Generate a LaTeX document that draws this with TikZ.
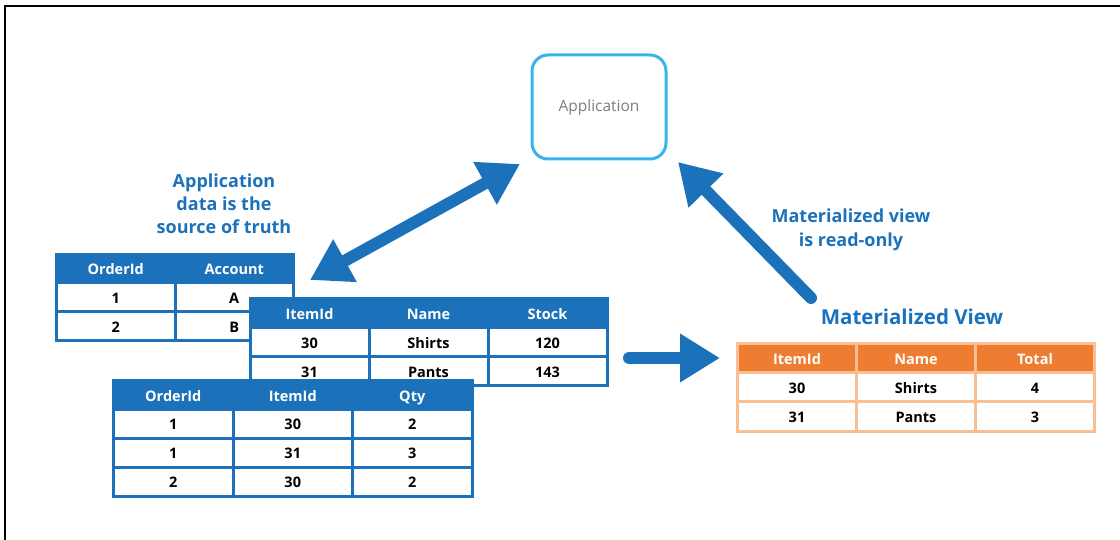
\documentclass[tikz,border=0pt]{standalone}
\usepackage{fontspec}
\setmainfont{Open Sans}
\usetikzlibrary{arrows.meta}
\definecolor{tblue}{RGB}{27,114,187}
\definecolor{appcyan}{RGB}{55,180,234}
\definecolor{apptext}{RGB}{125,125,125}
\definecolor{mvorange}{RGB}{238,125,49}
\definecolor{mvlight}{RGB}{249,190,148}
\tikzset{
  cell/.style={draw=tblue, line width=3pt, inner sep=0pt, text height=13pt, text depth=0.5pt,
    font=\bfseries\fontsize{14.5}{16}\selectfont},
  hcell/.style={cell, fill=tblue, text=white},
  dcell/.style={cell, fill=white, text=black},
  mvhead/.style={cell, draw=mvlight, fill=mvorange, text=white},
  mvcell/.style={cell, draw=mvlight, fill=white, text=black},
  lbl/.style={text=tblue, align=center, font=\bfseries\fontsize{18}{23}\selectfont},
  appbox/.style={draw=appcyan, line width=3pt, rounded corners=16pt, fill=white,
    minimum width=134pt, minimum height=104pt, text=apptext, font=\fontsize{15.5}{17}\selectfont},
  bigarrow/.style={draw=tblue, line width=12pt, line cap=round},
  bighead/.tip={Triangle[length=40pt,width=46pt]}
}
\begin{document}
\begin{tikzpicture}[x=1pt, y=-1pt]
\useasboundingbox (0,0) rectangle (1120,540);
\draw[line width=2pt] (4.5,540) -- (4.5,6) -- (1120,6);

% application
\node[appbox] (app) at (599,107) {Application};

% labels
\node[lbl] (truth) at (224,204) {Application\\data is the\\source of truth};
\node[lbl, font=\bfseries\fontsize{18}{24}\selectfont] (readonly) at (851,230) {Materialized view\\is read-only};
\node[lbl, font=\bfseries\fontsize{20.5}{22}\selectfont] (mvtitle) at (912,317) {Materialized View};

% orders / accounts
\foreach \txt [count=\c] in {OrderId,Account}
  \node[hcell, minimum width=118.5pt, minimum height=28.5pt] (acc-0-\c) at ({56.5+118.5*(\c-0.5)},268.75) {\txt};
\foreach \row [count=\r] in {{1,A},{2,B}}
  \foreach \txt [count=\c] in \row
    \node[dcell, minimum width=118.5pt, minimum height=28.5pt] (acc-\r-\c) at ({56.5+118.5*(\c-0.5)},{283+28.5*(\r-0.5)}) {\txt};

% items / stock
\foreach \txt [count=\c] in {ItemId,Name,Stock}
  \node[hcell, minimum width=119pt, minimum height=29.5pt] (stk-0-\c) at ({250+119*(\c-0.5)},313.25) {\txt};
\foreach \row [count=\r] in {{30,Shirts,120},{31,Pants,143}}
  \foreach \txt [count=\c] in \row
    \node[dcell, minimum width=119pt, minimum height=28.5pt] (stk-\r-\c) at ({250+119*(\c-0.5)},{328+28.5*(\r-0.5)}) {\txt};

% order lines
\foreach \txt [count=\c] in {OrderId,ItemId,Qty}
  \node[hcell, minimum width=119.5pt, minimum height=28.5pt] (qty-0-\c) at ({113.5+119.5*(\c-0.5)},394.75) {\txt};
\foreach \row [count=\r] in {{1,30,2},{1,31,3},{2,30,2}}
  \foreach \txt [count=\c] in \row
    \node[dcell, minimum width=119.5pt, minimum height=29pt] (qty-\r-\c) at ({113.5+119.5*(\c-0.5)},{409+29*(\r-0.5)}) {\txt};

% materialized view
\foreach \txt [count=\c] in {ItemId,Name,Total}
  \node[mvhead, minimum width=119pt, minimum height=28.5pt] (mv-0-\c) at ({737.5+119*(\c-0.5)},357.75) {\txt};
\foreach \row [count=\r] in {{30,Shirts,4},{31,Pants,3}}
  \foreach \txt [count=\c] in \row
    \node[mvcell, minimum width=119pt, minimum height=29.5pt] (mv-\r-\c) at ({737.5+119*(\c-0.5)},{372+29.5*(\r-0.5)}) {\txt};

% arrows
\coordinate (dbl-a) at (310,280);
\coordinate (dbl-b) at (520,164);
\coordinate (rt-a) at (629,358);
\coordinate (rt-b) at (720,358);
\coordinate (up-a) at (811,298);
\coordinate (up-b) at (678,162);
\draw[bigarrow, bighead-bighead] (dbl-a) -- (dbl-b);
\draw[bigarrow, -bighead] (rt-a) -- (rt-b);
\draw[bigarrow, -bighead] (up-a) -- (up-b);
\end{tikzpicture}
\end{document}
